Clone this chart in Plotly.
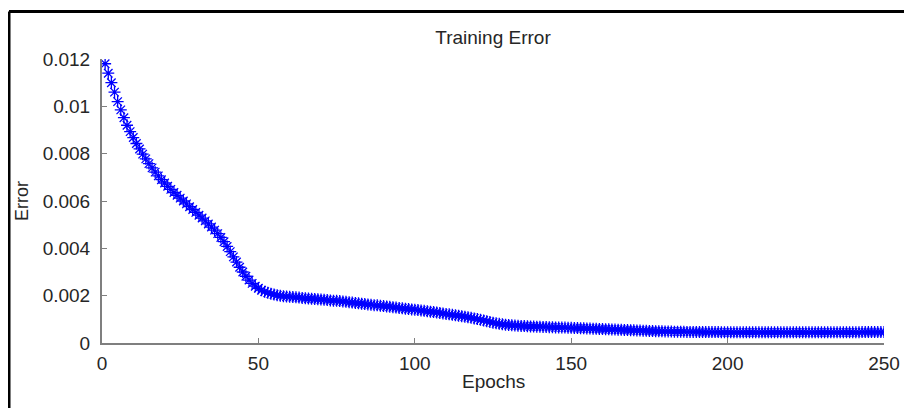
import plotly.graph_objects as go

# training error per epoch
epochs = list(range(1, 251))
error = [
    0.01180, 0.01140, 0.01100, 0.01060, 0.01020, 0.00985, 0.00952, 0.00920, 0.00893, 0.00868,
    0.00843, 0.00820, 0.00798, 0.00778, 0.00758, 0.00740, 0.00722, 0.00706, 0.00690, 0.00676,
    0.00662, 0.00649, 0.00636, 0.00624, 0.00612, 0.00600, 0.00588, 0.00576, 0.00564, 0.00552,
    0.00540, 0.00528, 0.00516, 0.00503, 0.00490, 0.00477, 0.00462, 0.00446, 0.00428, 0.00408,
    0.00386, 0.00364, 0.00342, 0.00320, 0.00300, 0.00282, 0.00266, 0.00252, 0.00240, 0.00231,
    0.00223, 0.00217, 0.00212, 0.00208, 0.00205, 0.00202, 0.00200, 0.00198, 0.00196, 0.00195,
    0.00194, 0.00193, 0.00192, 0.00190, 0.00189, 0.00188, 0.00187, 0.00186, 0.00185, 0.00184,
    0.00183, 0.00182, 0.00180, 0.00179, 0.00178, 0.00177, 0.00175, 0.00174, 0.00172, 0.00171,
    0.00169, 0.00168, 0.00166, 0.00165, 0.00163, 0.00162, 0.00160, 0.00159, 0.00157, 0.00156,
    0.00154, 0.00153, 0.00151, 0.00150, 0.00148, 0.00147, 0.00145, 0.00144, 0.00142, 0.00141,
    0.00139, 0.00137, 0.00136, 0.00134, 0.00132, 0.00131, 0.00129, 0.00127, 0.00125, 0.00123,
    0.00121, 0.00119, 0.00117, 0.00115, 0.00113, 0.00111, 0.00109, 0.00107, 0.00104, 0.00101,
    0.00098, 0.00095, 0.00092, 0.00089, 0.00086, 0.00083, 0.00081, 0.00079, 0.00077, 0.00076,
    0.00075, 0.00074, 0.00073, 0.00072, 0.00072, 0.00071, 0.00070, 0.00070, 0.00069, 0.00069,
    0.00068, 0.00068, 0.00067, 0.00067, 0.00066, 0.00066, 0.00065, 0.00065, 0.00064, 0.00064,
    0.00063, 0.00063, 0.00062, 0.00062, 0.00061, 0.00061, 0.00060, 0.00060, 0.00059, 0.00059,
    0.00058, 0.00058, 0.00057, 0.00057, 0.00056, 0.00056, 0.00055, 0.00055, 0.00054, 0.00054,
    0.00053, 0.00053, 0.00052, 0.00052, 0.00051, 0.00051, 0.00050, 0.00050, 0.00050, 0.00049,
    0.00049, 0.00049, 0.00048, 0.00048, 0.00048, 0.00048, 0.00047, 0.00047, 0.00047, 0.00047,
    0.00047, 0.00046, 0.00046, 0.00046, 0.00046, 0.00046, 0.00046, 0.00045, 0.00045, 0.00045,
    0.00045, 0.00045, 0.00045, 0.00045, 0.00045, 0.00045, 0.00045, 0.00045, 0.00045, 0.00045,
    0.00045, 0.00045, 0.00045, 0.00045, 0.00045, 0.00045, 0.00045, 0.00045, 0.00045, 0.00045,
    0.00045, 0.00045, 0.00045, 0.00045, 0.00045, 0.00045, 0.00045, 0.00045, 0.00045, 0.00045,
    0.00045, 0.00045, 0.00045, 0.00045, 0.00045, 0.00045, 0.00045, 0.00045, 0.00045, 0.00045,
    0.00045, 0.00045, 0.00046, 0.00046, 0.00046, 0.00046, 0.00046, 0.00046, 0.00046, 0.00046,
]

x_ticks = [0, 50, 100, 150, 200, 250]
y_ticks = [0, 0.002, 0.004, 0.006, 0.008, 0.01, 0.012]
y_tick_labels = ["0", "0.002", "0.004", "0.006", "0.008", "0.01", "0.012"]

FONT = "Liberation Sans, Arial, sans-serif"
TXT = "#262626"
AX = "#7f7f7f"

# page body has an 8px margin, so the figure is 8px smaller than the window
W, H = 904, 400
L, R, T, B = 94, 28, 51, 65
pw, ph = W - L - R, H - T - B

fig = go.Figure()
fig.add_trace(go.Scatter(
    x=epochs, y=error, mode="markers",
    marker=dict(symbol="asterisk-open", size=10, color="#0000ff",
                line=dict(color="#1414e6", width=1.3)),
    showlegend=False,
))

fig.update_layout(
    width=W, height=H,
    margin=dict(l=L, r=R, t=T, b=B, autoexpand=False),
    paper_bgcolor="white", plot_bgcolor="white",
    font=dict(family=FONT, size=19, color=TXT),
    title=dict(text="Training Error", x=0.5, xref="paper", xanchor="center",
               y=1 - 29 / H, yref="container", yanchor="middle",
               font=dict(size=19, color=TXT)),
)

fig.update_xaxes(
    range=[0, 250], tickvals=x_ticks, ticks="inside", ticklen=5,
    tickcolor=AX, showline=True, linecolor=AX, linewidth=2,
    showgrid=False, zeroline=False, ticklabelstandoff=2,
    tickfont=dict(size=19, color=TXT),
)
fig.update_yaxes(
    range=[0, 0.012], tickvals=y_ticks, ticktext=y_tick_labels,
    ticks="inside", ticklen=5, tickcolor=AX, showline=True,
    linecolor=AX, linewidth=2, showgrid=False, zeroline=False,
    ticklabelstandoff=6, tickfont=dict(size=19, color=TXT),
)

# axis titles
fig.add_annotation(text="Epochs", xref="paper", yref="paper", x=0.5,
                   y=-(373 - (H - B)) / ph, showarrow=False, xanchor="center",
                   yanchor="middle", font=dict(size=19, color=TXT))
fig.add_annotation(text="Error", xref="paper", yref="paper", x=(14 - L) / pw,
                   y=0.5, showarrow=False, textangle=-90, xanchor="center",
                   yanchor="middle", font=dict(size=18, color=TXT))

# black frame along the top and left of the picture
fx = (1 - L) / pw
fy = (H - B - 3.5) / ph
fig.add_shape(type="line", xref="paper", yref="paper",
              x0=fx, x1=(W - L) / pw, y0=fy, y1=fy,
              line=dict(color="black", width=3))
fig.add_shape(type="line", xref="paper", yref="paper",
              x0=fx, x1=fx, y0=fy, y1=-B / ph,
              line=dict(color="black", width=3))

fig.write_html("out.html")
